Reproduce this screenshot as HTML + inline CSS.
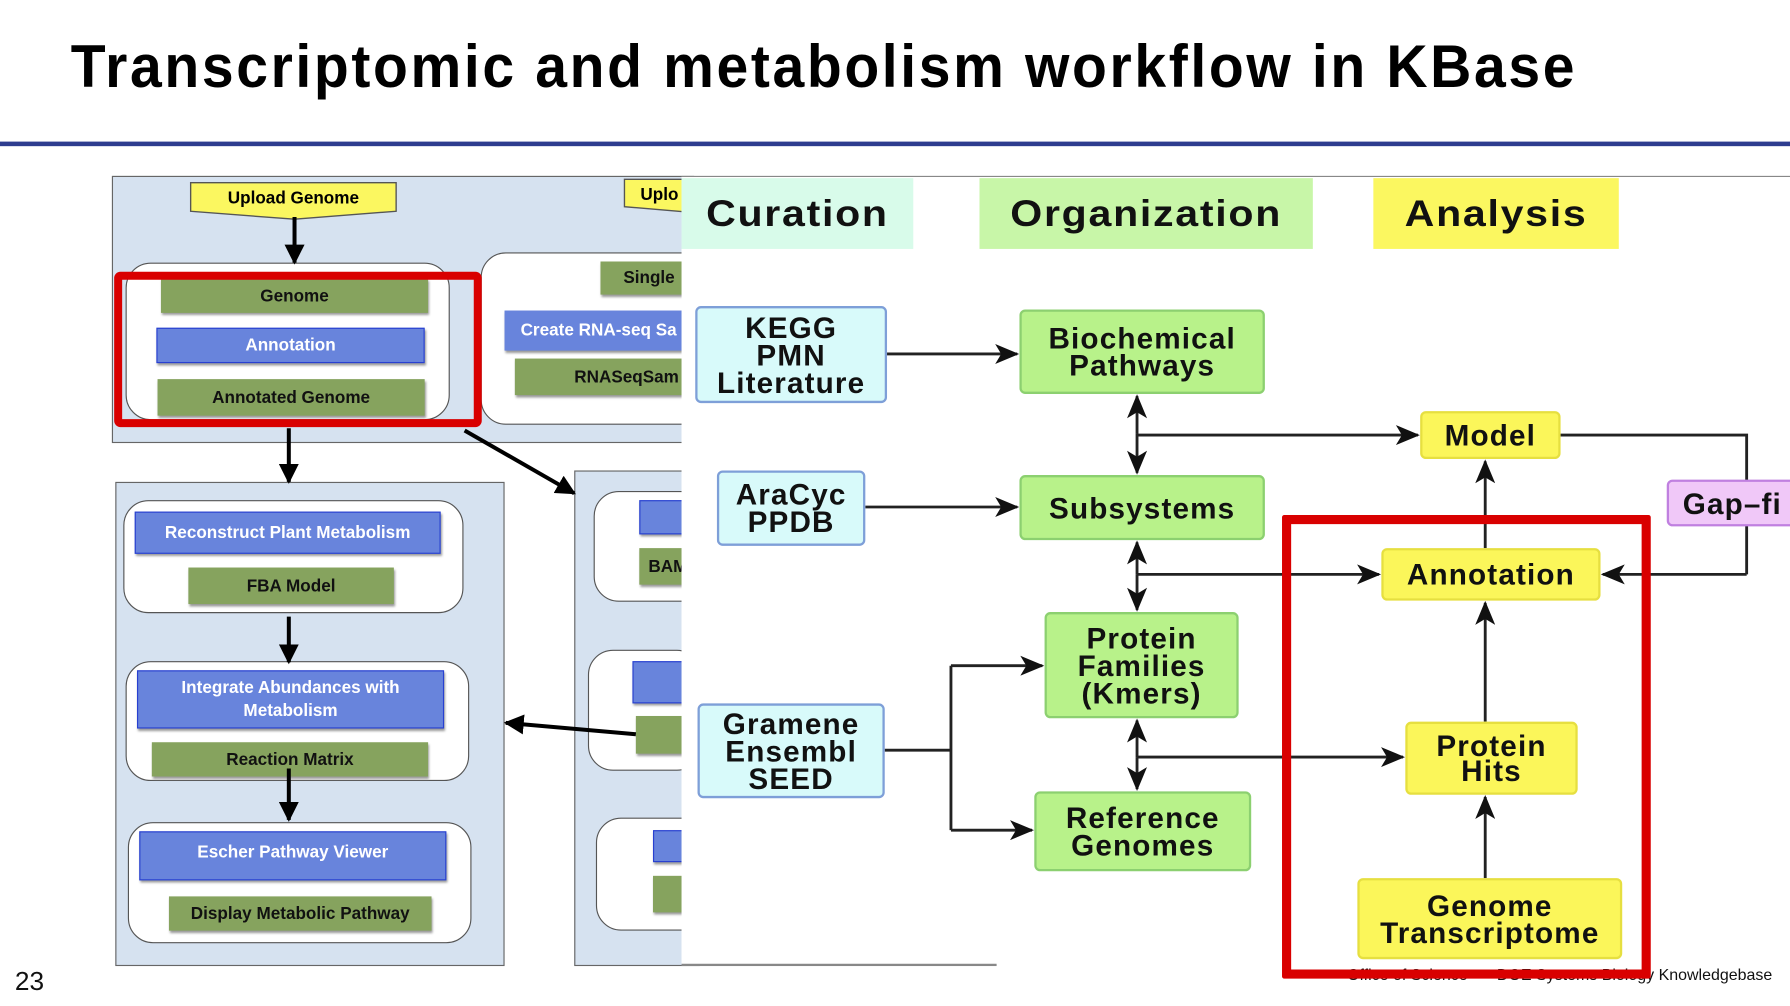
<!DOCTYPE html>
<html><head><meta charset="utf-8"><style>
html,body{margin:0;padding:0;background:#fff;overflow:hidden;width:1790px;height:1006px}
#s{position:absolute;left:0;top:0;width:1568px;height:881px;transform:scale(1.1416,1.1419);transform-origin:0 0;font-family:"Liberation Sans",sans-serif}
.a{position:absolute;box-sizing:border-box}
.g{background:#86a35e;color:#111;font-weight:bold;font-size:15px;display:flex;align-items:center;justify-content:center;box-shadow:1px 2px 2px #999;white-space:nowrap;overflow:hidden}
.b{background:#6884dc;color:#fff;font-weight:bold;font-size:15px;display:flex;align-items:center;justify-content:center;text-align:center;border:1.5px solid #2840d0;box-shadow:1px 2px 2px #999;white-space:nowrap;overflow:hidden;line-height:20px}
.p{background:#d6e2f0;border:1.5px solid #666}
.r{background:#fff;border:1.5px solid #555;border-radius:22px}
.n{display:flex;align-items:center;justify-content:center;text-align:center;font-weight:bold;font-size:26px;line-height:24px;border-radius:5px;color:#111;letter-spacing:1px;white-space:nowrap}
.c{background:#d8fafa;border:2px solid #7e9fd8}
.o{background:#b8f28a;border:2px solid #8cd070}
.y{background:#fbf65a;border:2px solid #e6df40}
.h{display:flex;align-items:center;justify-content:center;font-weight:bold;font-size:36px;color:#111;letter-spacing:1.5px}
.h span{display:inline-block;transform:scaleY(0.9)}
</style></head><body><div id="s">
<div class="a" style="left:62px;top:28px;font-size:50px;font-weight:bold;color:#000;white-space:nowrap;letter-spacing:2.3px;transform:scaleY(1.05);transform-origin:0 0">Transcriptomic and metabolism workflow in KBase</div>
<div class="a" style="left:0;top:124px;width:1568px;height:4px;background:#2e3d8f"></div>

<div class="a p" style="left:98px;top:154px;width:510px;height:234px"></div>
<svg class="a" style="left:166px;top:159px" width="184" height="36"><polygon points="1,1 181,1 181,26 92,33 1,26" fill="#fbf760" stroke="#555" stroke-width="1.2"/><text x="91" y="19" text-anchor="middle" font-weight="bold" font-size="15" font-family="Liberation Sans">Upload Genome</text></svg>
<svg class="a" style="left:546px;top:156px" width="60" height="34"><polygon points="1,1 60,1 60,30 1,25" fill="#fbf760" stroke="#555" stroke-width="1.2"/><text x="15" y="19" font-weight="bold" font-size="15" font-family="Liberation Sans">Uplo</text></svg>
<div class="a r" style="left:110px;top:230px;width:284px;height:138px"></div>
<div class="a g" style="left:141px;top:244px;width:234px;height:30px">Genome</div>
<div class="a b" style="left:137px;top:287px;width:235px;height:31px">Annotation</div>
<div class="a g" style="left:138px;top:332px;width:234px;height:32px">Annotated Genome</div>
<div class="a r" style="left:421px;top:221px;width:200px;height:151px"></div>
<div class="a g" style="left:526px;top:229px;width:80px;height:29px;justify-content:flex-start;padding-left:20px">Single</div>
<div class="a b" style="left:442px;top:272px;width:165px;height:35px;justify-content:flex-start;padding-left:13px;border-color:#6884dc">Create RNA-seq Sa</div>
<div class="a g" style="left:451px;top:314px;width:156px;height:32px;justify-content:flex-start;padding-left:52px">RNASeqSam</div>

<div class="a p" style="left:101px;top:422px;width:341px;height:424px"></div>
<div class="a r" style="left:108px;top:438px;width:298px;height:99px"></div>
<div class="a b" style="left:118px;top:448px;width:268px;height:37px">Reconstruct Plant Metabolism</div>
<div class="a g" style="left:165px;top:497px;width:180px;height:32px">FBA Model</div>
<div class="a r" style="left:110px;top:579px;width:301px;height:105px"></div>
<div class="a b" style="left:120px;top:587px;width:269px;height:51px;white-space:normal">Integrate Abundances with<br>Metabolism</div>
<div class="a g" style="left:133px;top:650px;width:242px;height:30px">Reaction Matrix</div>
<div class="a r" style="left:112px;top:720px;width:301px;height:106px"></div>
<div class="a b" style="left:122px;top:728px;width:269px;height:43px;align-items:flex-start;padding-top:8px">Escher Pathway Viewer</div>
<div class="a g" style="left:148px;top:785px;width:230px;height:30px">Display Metabolic Pathway</div>

<div class="a p" style="left:503px;top:412px;width:110px;height:434px"></div>
<div class="a r" style="left:520px;top:430px;width:100px;height:97px"></div>
<div class="a b" style="left:560px;top:438px;width:50px;height:30px"></div>
<div class="a g" style="left:560px;top:480px;width:50px;height:32px;justify-content:flex-start;padding-left:8px">BAM</div>
<div class="a r" style="left:515px;top:569px;width:100px;height:106px"></div>
<div class="a b" style="left:554px;top:579px;width:55px;height:37px"></div>
<div class="a g" style="left:557px;top:627px;width:50px;height:33px"></div>
<div class="a r" style="left:522px;top:716px;width:100px;height:99px"></div>
<div class="a b" style="left:572px;top:727px;width:40px;height:28px"></div>
<div class="a g" style="left:572px;top:767px;width:40px;height:32px"></div>

<svg class="a" style="left:0;top:0" width="620" height="881">
<defs><marker id="m" viewBox="0 0 10 10" refX="9" refY="5" markerWidth="5" markerHeight="5" orient="auto"><path d="M0,0L10,5L0,10z" fill="#000"/></marker></defs>
<g stroke="#000" stroke-width="3.5" fill="none" marker-end="url(#m)">
<line x1="258" y1="190" x2="258" y2="230"/>
<line x1="253" y1="375" x2="253" y2="422"/>
<line x1="407" y1="377" x2="503" y2="432"/>
<line x1="253" y1="540" x2="253" y2="580"/>
<line x1="253" y1="673" x2="253" y2="718"/>
<line x1="557" y1="643" x2="443" y2="633"/>
</g>
<rect x="103.5" y="241.5" width="315" height="129" fill="none" stroke="#d90000" stroke-width="7" rx="2"/>
</svg>

<div class="a" style="left:597px;top:154px;width:971px;height:691px;background:#fff;border-top:1.5px solid #888"></div>
<div class="a" style="left:597px;top:844px;width:276px;height:1.5px;background:#888"></div>
<div class="a h" style="left:597px;top:156px;width:203px;height:62px;background:#d8fbea"><span>Curation</span></div>
<div class="a h" style="left:858px;top:156px;width:292px;height:62px;background:#c8f6a8"><span>Organization</span></div>
<div class="a h" style="left:1203px;top:156px;width:215px;height:62px;background:#fbf760"><span>Analysis</span></div>

<svg class="a" style="left:0;top:0" width="1568" height="881">
<defs><marker id="k" viewBox="0 0 12 10" refX="11" refY="5" markerWidth="9" markerHeight="7" orient="auto"><path d="M0,0L12,5L0,10L3,5z" fill="#111"/></marker></defs>
<g stroke="#222" stroke-width="2.5" fill="none">
<line x1="777" y1="310" x2="891" y2="310" marker-end="url(#k)"/>
<line x1="758" y1="444" x2="891" y2="444" marker-end="url(#k)"/>
<polyline points="775,657 833,657"/>
<line x1="833" y1="583" x2="833" y2="727"/>
<line x1="833" y1="583" x2="913" y2="583" marker-end="url(#k)"/>
<line x1="833" y1="727" x2="904" y2="727" marker-end="url(#k)"/>
<line x1="996" y1="380" x2="996" y2="347" marker-end="url(#k)"/>
<line x1="996" y1="380" x2="996" y2="414" marker-end="url(#k)"/>
<line x1="996" y1="381" x2="1242" y2="381" marker-end="url(#k)"/>
<line x1="996" y1="503" x2="996" y2="475" marker-end="url(#k)"/>
<line x1="996" y1="503" x2="996" y2="534" marker-end="url(#k)"/>
<line x1="996" y1="503" x2="1208" y2="503" marker-end="url(#k)"/>
<line x1="996" y1="663" x2="996" y2="631" marker-end="url(#k)"/>
<line x1="996" y1="663" x2="996" y2="691" marker-end="url(#k)"/>
<line x1="996" y1="663" x2="1229" y2="663" marker-end="url(#k)"/>
<polyline points="1367,381 1530,381 1530,503"/>
<line x1="1530" y1="503" x2="1404" y2="503" marker-end="url(#k)"/>
<line x1="1301" y1="480" x2="1301" y2="404" marker-end="url(#k)"/>
<line x1="1301" y1="632" x2="1301" y2="528" marker-end="url(#k)"/>
<line x1="1301" y1="769" x2="1301" y2="698" marker-end="url(#k)"/>
</g>
</svg>

<div class="a n c" style="left:609px;top:268px;width:168px;height:85px">KEGG<br>PMN<br>Literature</div>
<div class="a n c" style="left:628px;top:412px;width:130px;height:66px">AraCyc<br>PPDB</div>
<div class="a n c" style="left:611px;top:616px;width:164px;height:83px">Gramene<br>Ensembl<br>SEED</div>
<div class="a n o" style="left:893px;top:271px;width:215px;height:74px">Biochemical<br>Pathways</div>
<div class="a n o" style="left:893px;top:416px;width:215px;height:57px">Subsystems</div>
<div class="a n o" style="left:915px;top:536px;width:170px;height:93px">Protein<br>Families<br>(Kmers)</div>
<div class="a n o" style="left:906px;top:693px;width:190px;height:70px">Reference<br>Genomes</div>
<div class="a n y" style="left:1244px;top:360px;width:123px;height:42px">Model</div>
<div class="a n y" style="left:1210px;top:480px;width:192px;height:46px">Annotation</div>
<div class="a n y" style="left:1231px;top:632px;width:151px;height:64px;line-height:22px">Protein<br>Hits</div>
<div class="a n y" style="left:1189px;top:769px;width:232px;height:71px">Genome<br>Transcriptome</div>
<div class="a n" style="left:1460px;top:420px;width:120px;height:41px;background:#f0c8f8;border:2px solid #c080e0;justify-content:flex-start;padding-left:12px">Gap–fi</div>

<div class="a" style="left:1180px;top:845px;font-size:14px;color:#111;white-space:nowrap">Office of Science &nbsp;— DOE Systems Biology Knowledgebase</div>
<div class="a" style="left:1123px;top:451px;width:323px;height:406px;border:8px solid #d90000;border-radius:2px"></div>
<div class="a" style="left:13px;top:846px;font-size:23px;color:#111">23</div>
</div></body></html>
